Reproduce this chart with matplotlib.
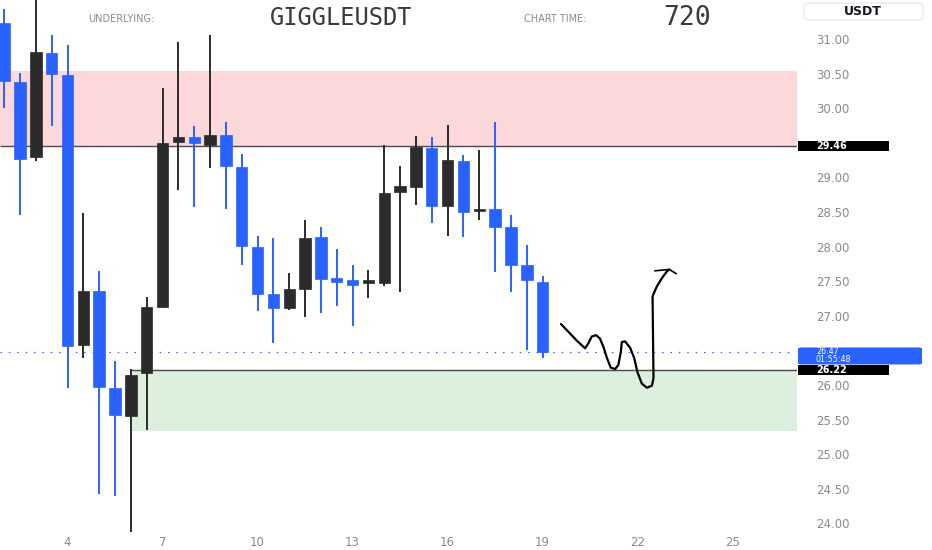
import matplotlib
matplotlib.use("Agg")
import matplotlib.pyplot as plt
from matplotlib.patches import Rectangle, FancyBboxPatch

# ---------------- data ----------------
bar_day = [2.0, 2.5, 3.0, 3.5, 4.0, 4.5, 5.0, 5.5, 6.0, 6.5, 7.0, 7.5, 8.0, 8.5,
           9.0, 9.5, 10.0, 10.5, 11.0, 11.5, 12.0, 12.5, 13.0, 13.5, 14.0, 14.5,
           15.0, 15.5, 16.0, 16.5, 17.0, 17.5, 18.0, 18.5, 19.0]
opens = [31.23, 30.38, 29.29, 30.80, 30.48, 26.58, 27.36, 25.95, 25.55, 26.17,
         27.12, 29.51, 29.59, 29.47, 29.62, 29.15, 28.00, 27.31, 27.11, 27.38,
         28.14, 27.54, 27.51, 27.47, 27.48, 28.79, 28.86, 29.42, 28.59, 29.24,
         28.52, 28.55, 28.28, 27.73, 27.49]
highs = [31.43, 30.51, 31.75, 31.06, 30.92, 28.49, 27.65, 26.34, 26.23, 27.27,
         30.29, 30.96, 29.75, 31.06, 29.80, 29.34, 28.16, 28.13, 27.62, 28.39,
         28.28, 27.96, 27.73, 27.66, 29.47, 29.16, 29.60, 29.59, 29.76, 29.33,
         29.39, 29.80, 28.45, 28.02, 27.57]
lows = [30.01, 28.45, 29.24, 29.75, 25.96, 26.39, 24.42, 24.39, 23.87, 25.35,
        27.11, 28.82, 28.57, 29.14, 28.54, 27.73, 27.07, 26.60, 27.09, 26.98,
        27.04, 27.14, 26.85, 27.25, 27.43, 27.34, 28.60, 28.34, 28.15, 28.14,
        28.39, 27.63, 27.34, 26.51, 26.39]
closes = [30.39, 29.26, 30.81, 30.49, 26.57, 27.36, 25.97, 25.56, 26.15, 27.12,
          29.49, 29.59, 29.50, 29.61, 29.16, 28.01, 27.32, 27.11, 27.38, 28.13,
          27.53, 27.49, 27.44, 27.51, 28.77, 28.87, 29.44, 28.59, 29.25, 28.50,
          28.55, 28.29, 27.74, 27.51, 26.47]

supply_zone = [29.46, 30.54]          # pink zone (bottom, top)
demand_zone = [25.33, 26.22]          # green zone (bottom, top)
demand_start_day = 6.0
last_price = 26.47
countdown = "01:55:48"

# hand-drawn projection (day, price)
sketch_day = [19.58, 19.81, 20.08, 20.34, 20.44, 20.55, 20.69, 20.81, 20.92,
              21.03, 21.15, 21.29, 21.39, 21.47, 21.50, 21.60, 21.76, 21.89,
              21.99, 22.13, 22.29, 22.45, 22.50, 22.47, 22.60, 22.76, 22.92, 23.00]
sketch_price = [26.88, 26.77, 26.64, 26.53, 26.60, 26.70, 26.72, 26.67, 26.55,
                26.39, 26.25, 26.23, 26.29, 26.48, 26.62, 26.63, 26.54, 26.39,
                26.19, 26.02, 25.96, 25.99, 26.10, 27.28, 27.42, 27.54, 27.64, 27.67]
arrow_day = [22.55, 23.00, 23.21]
arrow_price = [27.65, 27.67, 27.61]

x_ticks = [4, 7, 10, 13, 16, 19, 22, 25]
y_ticks = [24.0, 24.5, 25.0, 25.5, 26.0, 27.0, 27.5, 28.0, 28.5, 29.0, 30.0, 30.5, 31.0]

# ---------------- style ----------------
W, H = 932, 550
UP = "#2b2b2b"
DOWN = "#2962ff"
GREY = "#8a8a8a"

fig = plt.figure(figsize=(W / 100, H / 100), dpi=100)
fig.patch.set_facecolor("white")
ax = fig.add_axes([0, 1 - 534 / H, 797 / W, 534 / H])
ax.set_facecolor("white")
ax.set_xlim(1.869, 27.03)
ax.set_ylim(23.846, 31.564)
for s in ax.spines.values():
    s.set_visible(False)

x0, x1 = ax.get_xlim()

# zones
ax.add_patch(Rectangle((x0, supply_zone[0]), x1 - x0, supply_zone[1] - supply_zone[0],
                       facecolor="#fcd8db", edgecolor="none", zorder=0))
ax.add_patch(Rectangle((demand_start_day, demand_zone[0]), x1 - demand_start_day,
                       demand_zone[1] - demand_zone[0],
                       facecolor="#dcefdc", edgecolor="none", zorder=0))
ax.hlines(supply_zone[0], x0, x1, color="#4a4a4a", lw=1.0, zorder=1)
ax.hlines(demand_zone[1], demand_start_day, x1, color="#4a4a4a", lw=1.0, zorder=1)

# last-price dotted line
ax.plot([x0, 26.8], [last_price, last_price], color=DOWN, lw=0.9,
        linestyle=(0, (1.2, 5.5)), zorder=1)

# candles
colors = [UP if c >= o else DOWN for o, c in zip(opens, closes)]
ax.vlines(bar_day, lows, highs, colors=colors, lw=1.4, zorder=2)
bottoms = [min(o, c) for o, c in zip(opens, closes)]
heights = [max(abs(c - o), 0.025) for o, c in zip(opens, closes)]
ax.bar(bar_day, heights, bottom=bottoms, width=0.36, color=colors,
       edgecolor=colors, linewidth=0.5, zorder=3)

# hand drawing
ax.plot(sketch_day, sketch_price, color="black", lw=1.6, solid_joinstyle="round",
        solid_capstyle="round", zorder=4)
ax.plot(arrow_day, arrow_price, color="black", lw=1.2, solid_joinstyle="round", zorder=4)

# axes ticks
ax.set_xticks(x_ticks)
ax.set_xticklabels([str(t) for t in x_ticks])
ax.set_yticks(y_ticks)
ax.set_yticklabels([f"{t:.2f}" for t in y_ticks])
ax.yaxis.tick_right()
ax.tick_params(axis="y", length=0, pad=13.7, labelsize=8.5, labelcolor=GREY)
ax.tick_params(axis="x", length=0, pad=1.5, labelsize=8.5, labelcolor=GREY)
ax.grid(False)

# ---------------- price labels on right ----------------
def fig_y(price):
    return ax.transData.transform((0, price))[1] / H

tx = 816 / W
bx = 798 / W

def black_label(price, text):
    yc = fig_y(price)
    fig.add_artist(Rectangle((bx, yc - 5 / H), (889 - 798) / W, 10 / H,
                             transform=fig.transFigure, facecolor="black",
                             edgecolor="none", zorder=5))
    fig.text(tx, yc - 0.3 / H, text, color="white", fontsize=7, va="center",
             ha="left", fontweight="bold", zorder=6)

black_label(supply_zone[0], f"{supply_zone[0]:.2f}")

yl = fig_y(last_price)
fig.add_artist(FancyBboxPatch((bx, yl - 12 / H), (922 - 798) / W, 17 / H,
                              boxstyle="round,pad=0,rounding_size=0.003",
                              transform=fig.transFigure, facecolor=DOWN,
                              edgecolor="none", zorder=5))
fig.text(tx, yl + 0.8 / H, f"{last_price:.2f}", color="white", fontsize=5.8,
         va="center", ha="left", zorder=6)
fig.text(tx, yl - 7.2 / H, countdown, color="white", fontsize=5.8,
         va="center", ha="left", zorder=6)

black_label(demand_zone[1], f"{demand_zone[1]:.2f}")

# USDT currency box
fig.add_artist(FancyBboxPatch((804 / W, 1 - 20 / H), (923 - 804) / W, 17 / H,
                              boxstyle="round,pad=0,rounding_size=0.006",
                              transform=fig.transFigure, facecolor="white",
                              edgecolor="#e3e5ea", lw=0.8, zorder=5))
fig.text(863 / W, 1 - 11.5 / H, "USDT", color="#131722", fontsize=9,
         fontweight="bold", ha="center", va="center", zorder=6)

# header
fig.text(121 / W, 1 - 19 / H, "UNDERLYING:", color="#8a8a8a", fontsize=7,
         family="DejaVu Sans", ha="center", va="center")
fig.text(341 / W, 1 - 18 / H, "GIGGLEUSDT", color="#3a3a3a", fontsize=17,
         family="DejaVu Sans Mono", ha="center", va="center")
fig.text(555 / W, 1 - 19 / H, "CHART TIME:", color="#8a8a8a", fontsize=7,
         family="DejaVu Sans", ha="center", va="center")
fig.text(687 / W, 1 - 18 / H, "720", color="#3a3a3a", fontsize=19,
         family="DejaVu Sans Mono", ha="center", va="center")

fig.savefig("out.png", dpi=100, facecolor="white")
